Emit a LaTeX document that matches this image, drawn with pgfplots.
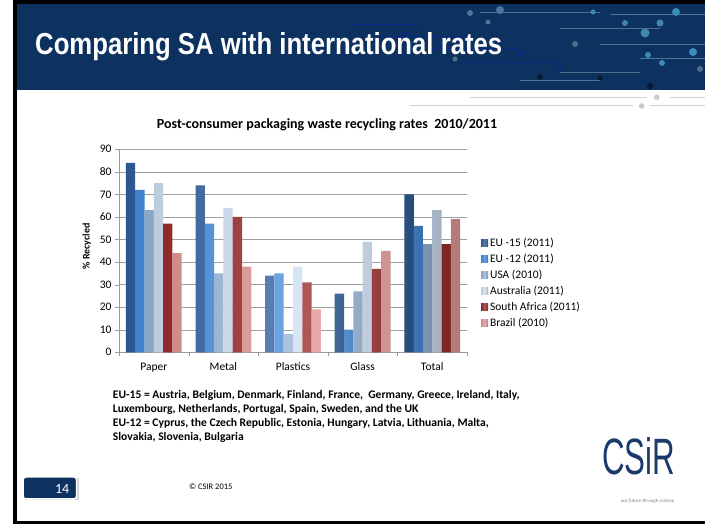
\documentclass[border=0pt]{standalone}
\usepackage{graphicx}
\usepackage{pgfplots}
\pgfplotsset{compat=1.18}
\usepackage{fontspec}
\setmainfont{Carlito}
\newfontfamily\arialfont{Liberation Sans}

\definecolor{navy}{RGB}{14,50,96}
\definecolor{logoblue}{RGB}{27,58,108}
\definecolor{eufifteen}{RGB}{47,93,155}
\definecolor{eutwelve}{RGB}{70,140,220}
\definecolor{usa}{RGB}{150,180,215}
\definecolor{aus}{RGB}{205,222,242}
\definecolor{safrica}{RGB}{155,45,45}
\definecolor{brazil}{RGB}{225,150,150}

\pgfplotsset{
  barstyle/.style={draw=none, shade, shading=axis, shading angle=90,
    left color=#1!92!black, right color=#1!80!black, middle color=#1!80!white},
}

\begin{document}
\begin{tikzpicture}[x=1pt,y=1pt]
\useasboundingbox (0,0) rectangle (705,524);
\fill[white] (0,0) rectangle (705,524);
% slide frame and header
\fill[black] (13,0) rectangle (705,524);
\fill[white] (17,3) rectangle (705,520);
\fill[navy] (17,434) rectangle (705,520);
% header circuit decoration
\begin{scope}[line width=0.6]
  \draw[blue!25!navy] (350,500) -- (420,500) (380,488) -- (470,488) (430,476) -- (520,476) (460,462) -- (560,462);
  \draw[cyan!25!navy] (480,512) -- (600,512) (560,496) -- (660,496) (600,480) -- (705,480) (560,452) -- (640,452);
  \draw[cyan!35!navy] (610,510) -- (705,510) (640,466) -- (705,466) (520,444) -- (600,444);
  \fill[cyan!35!navy] (470,511) circle (3) (488,502) circle (2.5) (500,514) circle (4);
  \fill[cyan!50!navy] (593,512) circle (2.5) (625,501) circle (3) (660,501) circle (3.5) (645,491) circle (4.5);
  \fill[cyan!60!navy] (676,512) circle (4) (693,472) circle (4) (648,469) circle (3) (662,461) circle (3);
  \fill[blue!20!navy] (405,490) circle (2.5) (440,478) circle (2) (520,470) circle (3) (560,455) circle (2.5);
  \fill[black!50!navy] (540,447) circle (3) (650,438) circle (3) (600,446) circle (2.5);
  \fill[cyan!25!navy] (455,465) circle (2.5) (575,480) circle (3) (700,455) circle (3);
\end{scope}
\node[anchor=base west, white, inner sep=0] at (35,469.7)
  {\resizebox{467pt}{22pt}{\arialfont\bfseries Comparing SA with international rates}};
% divider lines
\draw[gray!35, line width=1] (470,426.7) -- (646.7,426.7) (670,426.7) -- (705,426.7);
\fill[gray!40] (656.7,426.7) circle (2.8);
\draw[gray!35, line width=1] (410,418) -- (633,418) (650,418) -- (705,418);
\fill[gray!40] (641.7,418) circle (2.8);

% chart title
\node[anchor=base, inner sep=0] at (327,395)
  {\fontsize{14}{16}\selectfont\bfseries Post-consumer packaging waste recycling rates\ \ 2010/2011};

\begin{axis}[
  at={(119pt,171.7pt)}, anchor=south west,
  scale only axis, width=348pt, height=203pt,
  xmin=-0.5, xmax=4.5, ymin=0, ymax=90,
  ybar=0pt, bar width=9.3pt,
  xtick={-0.5,0.5,...,4.5}, x tick label as interval,
  xticklabels={Paper,Metal,Plastics,Glass,Total},
  xticklabel style={yshift=-3pt},
  ytick={0,10,...,90},
  ymajorgrids, grid style={draw=gray!75},
  axis x line*=bottom, axis y line*=left,
  axis line style={draw=gray!80},
  tick align=outside, major tick length=4pt, tick style={draw=gray!80},
  ticklabel style={font=\fontsize{11.5}{13}\selectfont},
  /pgf/number format/assume math mode=true,
  ylabel={\% Recycled},
  ylabel style={font=\bfseries\fontsize{10}{12}\selectfont, at={(axis description cs:-0.092,0.522)}, anchor=center},
  legend cell align=left,
  legend style={at={(axis description cs:1.04,0.34)}, anchor=west, draw=none, fill=none,
    font=\fontsize{11.5}{13}\selectfont, row sep=2pt, inner sep=0pt},
  legend image code/.code={\path[#1] (0pt,-3pt) rectangle (7pt,4pt);},
]
\addplot[barstyle=eufifteen] coordinates {(0,84) (1,74) (2,34) (3,26) (4,70)};
\addlegendentry{EU -15 (2011)}
\addplot[barstyle=eutwelve] coordinates {(0,72) (1,57) (2,35) (3,10) (4,56)};
\addlegendentry{EU -12 (2011)}
\addplot[barstyle=usa] coordinates {(0,63) (1,35) (2,8) (3,27) (4,48)};
\addlegendentry{USA (2010)}
\addplot[barstyle=aus] coordinates {(0,75) (1,64) (2,38) (3,49) (4,63)};
\addlegendentry{Australia (2011)}
\addplot[barstyle=safrica] coordinates {(0,57) (1,60) (2,31) (3,37) (4,48)};
\addlegendentry{South Africa (2011)}
\addplot[barstyle=brazil] coordinates {(0,44) (1,38) (2,19) (3,45) (4,59)};
\addlegendentry{Brazil (2010)}
\end{axis}

% notes
\begin{scope}[every node/.style={anchor=base west, inner sep=0, font=\fontsize{11.6}{13}\selectfont\bfseries}]
\node at (112.7,125.5) {EU-15 = Austria, Belgium, Denmark, Finland, France,\ \ Germany, Greece, Ireland, Italy,};
\node at (112.7,111.5) {Luxembourg, Netherlands, Portugal, Spain, Sweden, and the UK};
\node at (112.7,97.5) {EU-12 = Cyprus, the Czech Republic, Estonia, Hungary, Latvia, Lithuania, Malta,};
\node at (112.7,83.5) {Slovakia, Slovenia, Bulgaria};
\end{scope}

% footer
\fill[gray!35] (24.5,23.5) rectangle (78.5,45.5);
\draw[white, line width=1.5, fill=navy, rounded corners=3] (23,25) rectangle (76.7,47);
\node[white, anchor=base east, inner sep=0, font=\fontsize{14}{16}\selectfont] at (69.5,30.5) {14};
\node[inner sep=0, font=\fontsize{8.5}{10}\selectfont] at (210.8,37.3) {© CSIR 2015};
\node[anchor=base west, inner sep=0, logoblue] at (602,49)
  {\resizebox{73pt}{37pt}{\arialfont CSiR}};
\node[inner sep=0, gray, font=\fontsize{5}{6}\selectfont\itshape] at (647.5,23) {our future through science};
\end{tikzpicture}
\end{document}
